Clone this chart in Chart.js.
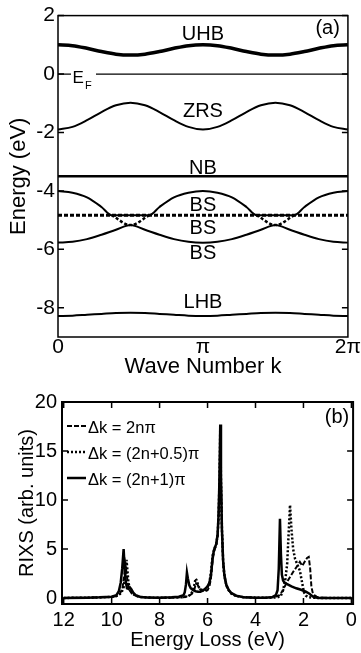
<!DOCTYPE html>
<html lang="en">
<head>
<meta charset="UTF-8" />
<title>Bands and RIXS</title>
<script src="https://cdn.jsdelivr.net/npm/chart.js"></script>
<style>
  body { margin: 0; background: #fff; }
  .panel { position: absolute; left: 0; width: 361px; }
  #top { top: 0; height: 385px; }
  #bottom { top: 385px; height: 268px; }
</style>
</head>
<body>
<div class="panel" id="top"><canvas id="bands" width="361" height="385"></canvas></div>
<div class="panel" id="bottom"><canvas id="rixs" width="361" height="268"></canvas></div>
<script>
// ---- panel (a): bands, k in units of pi ----
const kGrid = [0, 0.1, 0.2, 0.3, 0.4, 0.5, 0.6, 0.7, 0.8, 0.9, 1.0, 1.1, 1.2, 1.3, 1.4, 1.5, 1.6, 1.7, 1.8, 1.9, 2.0];
const uhb = [1.0, 0.97, 0.88, 0.77, 0.68, 0.65, 0.68, 0.77, 0.88, 0.97, 1.0, 0.97, 0.88, 0.77, 0.68, 0.65, 0.68, 0.77, 0.88, 0.97, 1.0];
const zrs = [-1.9, -1.81, -1.58, -1.3, -1.07, -0.98, -1.07, -1.3, -1.58, -1.81, -1.9, -1.81, -1.58, -1.3, -1.07, -0.98, -1.07, -1.3, -1.58, -1.81, -1.9];
const bsLower = [-5.77, -5.74, -5.65, -5.5, -5.33, -5.17, -5.33, -5.5, -5.65, -5.74, -5.77, -5.74, -5.65, -5.5, -5.33, -5.17, -5.33, -5.5, -5.65, -5.74, -5.77];
const lhb = [-8.28, -8.27, -8.24, -8.21, -8.18, -8.17, -8.18, -8.21, -8.24, -8.27, -8.28, -8.27, -8.24, -8.21, -8.18, -8.17, -8.18, -8.21, -8.24, -8.27, -8.28];
const kUpper = [0, 0.1, 0.2, 0.3, 0.37, 0.63, 0.7, 0.8, 0.9, 1.0, 1.1, 1.2, 1.3, 1.37, 1.63, 1.7, 1.8, 1.9, 2.0];
const bsUpper = [-4.0, -4.06, -4.22, -4.55, -4.83, -4.83, -4.55, -4.22, -4.06, -4.0, -4.06, -4.22, -4.55, -4.83, -4.83, -4.55, -4.22, -4.06, -4.0];
const kCross = [0.37, 0.5, 0.63, 1.0, 1.37, 1.5, 1.63];
const bsCross = [-4.83, -5.17, -4.83, null, -4.83, -5.17, -4.83];
const kFlat = [0, 2];
const nb = [-3.5, -3.5];
const fermi = [0, 0];
const bsFlat = [-4.83, -4.83];

const bandNames = ['UHB', 'ZRS', 'NB', 'BS', 'BS', 'BS', 'LHB'];
const bandNameY = [1.35, -1.27, -3.22, -4.49, -5.27, -6.15, -7.82];
const yTicksA = [-8, -6, -4, -2, 0, 2];
const xTicksA = [0, 1, 2];
const xTickTextA = ['0', 'π', '2π'];

// ---- panel (b): RIXS spectra ----
const lossDash = [12, 11, 10.5, 10, 9.8, 9.65, 9.55, 9.48, 9.43, 9.38, 9.32, 9.25, 9.15, 9.0, 8.8, 8.5, 8, 7.5, 7.0, 6.8, 6.65, 6.55, 6.48, 6.42, 6.35, 6.25, 6.1, 6.0, 5.92, 5.86, 5.82, 5.78, 5.72, 5.64, 5.58, 5.54, 5.5, 5.47, 5.44, 5.4, 5.35, 5.3, 5.22, 5.12, 5.0, 4.8, 4.5, 4.0, 3.5, 3.2, 3.0, 2.85, 2.7, 2.55, 2.4, 2.25, 2.15, 2.05, 1.95, 1.85, 1.78, 1.72, 1.67, 1.62, 1.55, 1.45, 1.3, 1.0, 0.5, 0];
const rixsDash = [0.02, 0.05, 0.08, 0.12, 0.2, 0.45, 1.0, 2.2, 3.4, 2.6, 1.4, 0.8, 0.45, 0.25, 0.12, 0.06, 0.04, 0.05, 0.1, 0.2, 0.45, 0.9, 1.5, 1.4, 1.0, 0.75, 0.7, 0.8, 1.2, 2.0, 3.0, 4.0, 4.8, 5.4, 6.3, 8.3, 12, 17, 12, 7, 3.6, 2.2, 1.3, 0.8, 0.45, 0.2, 0.1, 0.05, 0.05, 0.1, 0.3, 0.8, 1.6, 2.2, 2.8, 3.3, 3.7, 3.3, 3.7, 4.1, 4.2, 3.0, 1.2, 0.6, 0.3, 0.15, 0.05, 0.02, 0, 0];
const lossDot = [12, 11, 10.5, 10, 9.8, 9.6, 9.5, 9.44, 9.38, 9.34, 9.3, 9.24, 9.15, 9.0, 8.8, 8.5, 8, 7.5, 7.0, 6.8, 6.7, 6.62, 6.56, 6.5, 6.45, 6.38, 6.3, 6.2, 6.1, 6.0, 5.92, 5.86, 5.82, 5.78, 5.72, 5.64, 5.58, 5.54, 5.5, 5.47, 5.44, 5.4, 5.35, 5.3, 5.22, 5.12, 5.0, 4.8, 4.5, 4.0, 3.5, 3.1, 2.95, 2.85, 2.75, 2.68, 2.62, 2.56, 2.5, 2.43, 2.35, 2.25, 2.15, 2.05, 1.98, 1.9, 1.8, 1.6, 1.3, 1.0, 0.5, 0];
const rixsDot = [0.02, 0.04, 0.07, 0.12, 0.2, 0.5, 1.1, 2.2, 3.9, 2.8, 1.6, 0.9, 0.5, 0.25, 0.12, 0.06, 0.04, 0.05, 0.1, 0.2, 0.4, 0.7, 1.2, 2.0, 1.8, 1.2, 0.9, 0.8, 0.85, 1.1, 1.6, 2.6, 3.6, 4.4, 5.0, 5.5, 6.4, 8.4, 12, 17.2, 12, 7, 3.7, 2.3, 1.3, 0.8, 0.45, 0.2, 0.1, 0.05, 0.04, 0.08, 0.2, 0.8, 2.0, 3.5, 6.5, 9.5, 7.0, 5.0, 4.0, 3.4, 2.8, 1.5, 0.6, 0.25, 0.1, 0.04, 0.01, 0, 0, 0];
const lossSolid = [12, 11, 10.5, 10, 9.8, 9.7, 9.62, 9.56, 9.5, 9.46, 9.42, 9.36, 9.3, 9.24, 9.18, 9.1, 9.0, 8.8, 8.5, 8, 7.5, 7.2, 7.0, 6.95, 6.9, 6.86, 6.82, 6.76, 6.7, 6.6, 6.5, 6.4, 6.3, 6.2, 6.1, 6.0, 5.92, 5.86, 5.82, 5.78, 5.72, 5.64, 5.58, 5.54, 5.5, 5.47, 5.44, 5.4, 5.35, 5.3, 5.22, 5.12, 5.0, 4.8, 4.5, 4.0, 3.6, 3.3, 3.15, 3.08, 3.03, 2.98, 2.94, 2.9, 2.85, 2.8, 2.7, 2.5, 2.3, 2.1, 1.9, 1.75, 1.6, 1.5, 1.3, 1.0, 0.5, 0];
const rixsSolid = [0.02, 0.05, 0.08, 0.15, 0.3, 0.7, 1.6, 3.0, 5.0, 3.2, 1.8, 1.0, 0.95, 1.1, 0.9, 0.55, 0.3, 0.12, 0.06, 0.05, 0.08, 0.15, 0.3, 0.6, 1.4, 2.6, 2.0, 1.3, 1.0, 0.8, 0.7, 0.65, 0.65, 0.75, 0.95, 1.2, 1.6, 2.3, 3.3, 4.3, 5.0, 5.5, 6.5, 8.5, 12.5, 17.7, 12.5, 7.0, 3.8, 2.4, 1.4, 0.85, 0.5, 0.25, 0.1, 0.05, 0.05, 0.1, 0.3, 0.8, 3.0, 8.1, 4.5, 2.4, 1.8, 1.6, 1.45, 1.2, 1.0, 0.85, 0.65, 0.45, 0.15, 0.05, 0.02, 0.01, 0, 0];

const seriesNames = ['Δk = 2nπ', 'Δk = (2n+0.5)π', 'Δk = (2n+1)π'];
const xTicksB = [12, 10, 8, 6, 4, 2, 0];
const yTicksB = [0, 5, 10, 15, 20];

const FONT = '"Liberation Sans", Arial, sans-serif';
Chart.defaults.font.family = FONT;
Chart.defaults.color = '#000';

function pts(xs, ys) {
  return xs.map((x, i) => ({ x: x, y: ys[i] }));
}

// frame box plus inward tick marks
const frame = {
  id: 'frame',
  afterDatasetsDraw(chart, args, opts) {
    const { ctx, chartArea: a, scales: { x, y } } = chart;
    ctx.save();
    ctx.strokeStyle = '#000';
    ctx.lineWidth = opts.width;
    ctx.strokeRect(a.left, a.top, a.right - a.left, a.bottom - a.top);
    ctx.lineWidth = 1.5;
    ctx.beginPath();
    (opts.yTicks || []).forEach(v => {
      const p = y.getPixelForValue(v);
      ctx.moveTo(a.left, p); ctx.lineTo(a.left + 6, p);
      ctx.moveTo(a.right, p); ctx.lineTo(a.right - 6, p);
    });
    (opts.xTicks || []).forEach(v => {
      const p = x.getPixelForValue(v);
      ctx.moveTo(p, a.top); ctx.lineTo(p, a.top + 6);
      ctx.moveTo(p, a.bottom); ctx.lineTo(p, a.bottom - 6);
    });
    ctx.stroke();
    ctx.restore();
  }
};

const bandText = {
  id: 'bandText',
  afterDraw(chart) {
    const { ctx, scales: { x, y } } = chart;
    ctx.save();
    ctx.fillStyle = '#000';
    ctx.textAlign = 'center';
    ctx.textBaseline = 'middle';
    ctx.font = '20px ' + FONT;
    const cx = x.getPixelForValue(1);
    bandNames.forEach((t, i) => ctx.fillText(t, cx, y.getPixelForValue(bandNameY[i])));
    ctx.fillText('(a)', x.getPixelForValue(1.86), y.getPixelForValue(1.56));
    // E_F over the zero line
    const y0 = y.getPixelForValue(0);
    ctx.fillStyle = '#fff';
    ctx.fillRect(71, y0 - 8, 25, 18);
    ctx.fillStyle = '#000';
    ctx.textAlign = 'left';
    ctx.textBaseline = 'alphabetic';
    ctx.font = '17px ' + FONT;
    ctx.fillText('E', 72.5, y0 + 9);
    ctx.font = '11px ' + FONT;
    ctx.fillText('F', 85, y0 + 15);
    ctx.restore();
  }
};

const rixsLegend = {
  id: 'rixsLegend',
  afterDraw(chart) {
    const { ctx, chartArea: a } = chart;
    ctx.save();
    ctx.font = '16.5px ' + FONT;
    ctx.textBaseline = 'middle';
    ctx.fillStyle = '#000';
    chart.data.datasets.forEach((ds, i) => {
      const yy = a.top + 24 + i * 26;
      ctx.strokeStyle = '#000';
      ctx.lineWidth = ds.borderWidth;
      ctx.setLineDash(ds.borderDash || []);
      ctx.beginPath();
      ctx.moveTo(a.left + 5, yy);
      ctx.lineTo(a.left + 24, yy);
      ctx.stroke();
      ctx.setLineDash([]);
      ctx.fillText(ds.label, a.left + 26, yy + 2);
    });
    ctx.font = '20px ' + FONT;
    ctx.textAlign = 'center';
    ctx.fillText('(b)', 337, a.top + 15);
    ctx.restore();
  }
};

function band(xs, ys, width, dash) {
  return {
    data: pts(xs, ys),
    borderColor: '#000',
    borderWidth: width,
    borderDash: dash || [],
    pointRadius: 0,
    cubicInterpolationMode: 'monotone',
    spanGaps: false
  };
}

new Chart(document.getElementById('bands'), {
  type: 'line',
  data: {
    datasets: [
      band(kGrid, uhb, 3.5),
      band(kFlat, fermi, 1.2),
      band(kGrid, zrs, 2),
      band(kFlat, nb, 2.5),
      band(kUpper, bsUpper, 2),
      band(kGrid, bsLower, 2),
      band(kFlat, bsFlat, 3, [4, 2]),
      band(kCross, bsCross, 2.5, [3, 2]),
      band(kGrid, lhb, 2)
    ]
  },
  options: {
    responsive: false,
    animation: false,
    layout: { padding: { top: 12, right: 6, left: 0, bottom: 0 }, autoPadding: false },
    plugins: {
      legend: { display: false },
      tooltip: { enabled: false },
      frame: { width: 1.5, yTicks: yTicksA }
    },
    scales: {
      x: {
        type: 'linear', min: 0, max: 2,
        grid: { display: false, drawTicks: false },
        border: { display: false },
        afterBuildTicks: s => { s.ticks = xTicksA.map(v => ({ value: v })); },
        afterFit: s => { s.height = 48; },
        ticks: {
          autoSkip: false, maxRotation: 0, padding: 0,
          font: { size: 21, lineHeight: 1.0 },
          callback: v => xTickTextA[xTicksA.indexOf(v)]
        },
        title: { display: true, text: 'Wave Number k', font: { size: 22 }, padding: { top: 0, bottom: 5 } }
      },
      y: {
        min: -9, max: 2,
        grid: { display: false, drawTicks: false },
        border: { display: false },
        afterBuildTicks: s => { s.ticks = yTicksA.map(v => ({ value: v })); },
        afterFit: s => { s.width = 58; },
        ticks: { padding: 3, font: { size: 21 } },
        title: { display: true, text: 'Energy (eV)', font: { size: 22 }, padding: { top: 6, bottom: 0 } }
      }
    }
  },
  plugins: [frame, bandText]
});

function spec(label, xs, ys, width, dash, order) {
  return {
    label: label,
    data: pts(xs, ys),
    borderColor: '#000',
    borderWidth: width,
    borderDash: dash,
    pointRadius: 0,
    tension: 0,
    order: order
  };
}

new Chart(document.getElementById('rixs'), {
  type: 'line',
  data: {
    datasets: [
      spec(seriesNames[0], lossDash, rixsDash, 2, [5, 2], 3),
      spec(seriesNames[1], lossDot, rixsDot, 2.5, [2, 2], 2),
      spec(seriesNames[2], lossSolid, rixsSolid, 2.5, [], 1)
    ]
  },
  options: {
    responsive: false,
    animation: false,
    layout: { padding: { top: 12, right: 4, left: 0, bottom: 0 }, autoPadding: false },
    plugins: {
      legend: { display: false },
      tooltip: { enabled: false },
      frame: { width: 2, yTicks: yTicksB, xTicks: xTicksB }
    },
    scales: {
      x: {
        type: 'linear', min: -0.07, max: 12.07, reverse: true,
        grid: { display: false, drawTicks: false },
        border: { display: false },
        afterBuildTicks: s => { s.ticks = xTicksB.map(v => ({ value: v })); },
        afterFit: s => { s.height = 49; },
        ticks: { autoSkip: false, maxRotation: 0, padding: 4, font: { size: 20 } },
        title: { display: true, text: 'Energy Loss (eV)', font: { size: 20 }, padding: { top: 0, bottom: 1 } }
      },
      y: {
        min: -0.6, max: 20,
        grid: { display: false, drawTicks: false },
        border: { display: false },
        afterBuildTicks: s => { s.ticks = yTicksB.map(v => ({ value: v })); },
        afterFit: s => { s.width = 62; },
        ticks: { padding: 5, font: { size: 20 } },
        title: { display: true, text: 'RIXS (arb. units)', font: { size: 20 }, padding: { top: 15, bottom: 0 } }
      }
    }
  },
  plugins: [frame, rixsLegend]
});
</script>
</body>
</html>
